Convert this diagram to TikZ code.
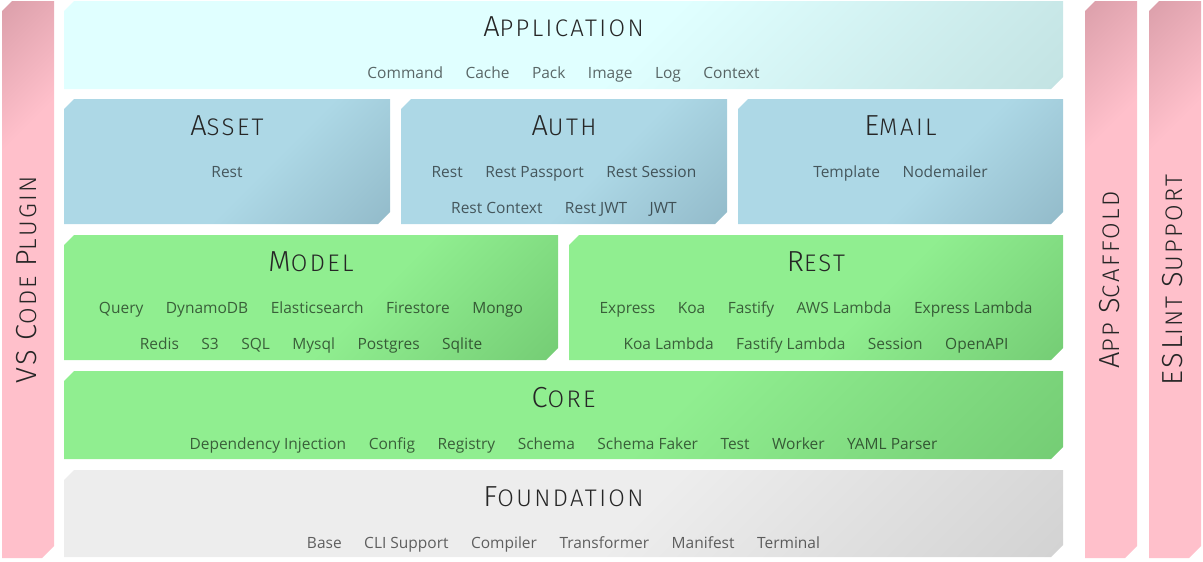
\documentclass[tikz,border=0pt]{standalone}
\usepackage{fontspec}
\setmainfont{Open Sans}
\newfontfamily\headfont{Fira Sans}[UprightFont=* Light,LetterSpace=10]
\usetikzlibrary{positioning}

\definecolor{cyanbase}{RGB}{224,255,255}
\definecolor{cyandark}{RGB}{194,226,226}
\definecolor{bluebase}{RGB}{173,216,230}
\definecolor{bluedark}{RGB}{146,186,201}
\definecolor{greenbase}{RGB}{144,238,144}
\definecolor{greendark}{RGB}{116,204,116}
\definecolor{graybase}{RGB}{237,237,237}
\definecolor{graydark}{RGB}{210,210,210}
\definecolor{pinkbase}{RGB}{255,192,203}
\definecolor{pinkdark}{RGB}{220,160,171}

\pgfdeclarehorizontalshading{cyanshade}{100bp}{color(0bp)=(cyanbase); color(55bp)=(cyanbase); color(86bp)=(cyandark); color(100bp)=(cyandark)}
\pgfdeclarehorizontalshading{blueshade}{100bp}{color(0bp)=(bluebase); color(57bp)=(bluebase); color(86bp)=(bluedark); color(100bp)=(bluedark)}
\pgfdeclarehorizontalshading{greenshade}{100bp}{color(0bp)=(greenbase); color(57bp)=(greenbase); color(86bp)=(greendark); color(100bp)=(greendark)}
\pgfdeclarehorizontalshading{grayshade}{100bp}{color(0bp)=(graybase); color(55bp)=(graybase); color(86bp)=(graydark); color(100bp)=(graydark)}
\pgfdeclarehorizontalshading{pinkshade}{100bp}{color(0bp)=(pinkdark); color(15bp)=(pinkdark); color(32bp)=(pinkbase); color(100bp)=(pinkbase)}

% box with cut corners: x1 y1 x2 y2 shading
\newcommand{\layer}[5]{\shade[shading=#5,shading angle=-45] (#1,#2+10) -- (#1+10,#2) -- (#3,#2) -- (#3,#4-12) -- (#3-12,#4) -- (#1,#4) -- cycle;}
% hand made small caps
\newcommand{\tcap}[2]{{\fontsize{29}{29}\selectfont #1}{\fontsize{24}{24}\selectfont #2}}
\newcommand{\gap}{\hspace{22.5pt}}

\begin{document}
\begin{tikzpicture}
[x=1pt,y=-1pt,
head/.style = {font=\headfont\fontsize{24}{24}\selectfont, text=black!85, inner sep=0pt},
items/.style = {font=\fontsize{15.5}{18}\selectfont, text=black, text opacity=.6, inner sep=0pt},]
\useasboundingbox (0,0) rectangle (1203,562);

\layer{2}{1}{54}{558}{pinkshade}
\layer{1085}{1}{1137}{558}{pinkshade}
\layer{1149}{1}{1201}{558}{pinkshade}
\layer{64}{1}{1063}{89}{cyanshade}
\layer{64}{99}{390}{224}{blueshade}
\layer{401}{99}{727}{224}{blueshade}
\layer{738}{99}{1063}{224}{blueshade}
\layer{64}{235}{558}{360}{greenshade}
\layer{569}{235}{1063}{360}{greenshade}
\layer{64}{371}{1063}{459}{greenshade}
\layer{64}{470}{1063}{557}{grayshade}

\node (vscode) at (27,280)[head,rotate=90] {\tcap{VS}{} \tcap{C}{ODE} \tcap{P}{LUGIN}};
\node (scaffold) at (1110,280)[head,rotate=90] {\tcap{A}{PP} \tcap{S}{CAFFOLD}};
\node (eslint) at (1173,280)[head,rotate=90] {\tcap{ESL}{INT} \tcap{S}{UPPORT}};

\node (apphead) at (563.5,36)[head,anchor=base] {\tcap{A}{PPLICATION}};
\node (appitems) at (563.5,78)[items,anchor=base] {Command\gap Cache\gap Pack\gap Image\gap Log\gap Context};

\node (assethead) at (227,135)[head,anchor=base] {\tcap{A}{SSET}};
\node (assetitems) at (227,177)[items,anchor=base] {Rest};

\node (authhead) at (564,135)[head,anchor=base] {\tcap{A}{UTH}};
\node (authitems) at (564,177)[items,anchor=base] {Rest\gap Rest Passport\gap Rest Session};
\node (authmore) at (564,213)[items,anchor=base] {Rest Context\gap Rest JWT\gap JWT};

\node (emailhead) at (900.5,135)[head,anchor=base] {\tcap{E}{MAIL}};
\node (emailitems) at (900.5,177)[items,anchor=base] {Template\gap Nodemailer};

\node (modelhead) at (311,271)[head,anchor=base] {\tcap{M}{ODEL}};
\node (modelitems) at (311,313)[items,anchor=base] {Query\gap DynamoDB\gap Elasticsearch\gap Firestore\gap Mongo};
\node (modelmore) at (311,349)[items,anchor=base] {Redis\gap S3\gap SQL\gap Mysql\gap Postgres\gap Sqlite};

\node (resthead) at (816,271)[head,anchor=base] {\tcap{R}{EST}};
\node (restitems) at (816,313)[items,anchor=base] {Express\gap Koa\gap Fastify\gap AWS Lambda\gap Express Lambda};
\node (restmore) at (816,349)[items,anchor=base] {Koa Lambda\gap Fastify Lambda\gap Session\gap OpenAPI};

\node (corehead) at (563.5,407)[head,anchor=base] {\tcap{C}{ORE}};
\node (coreitems) at (563.5,449)[items,anchor=base] {Dependency Injection\gap Config\gap Registry\gap Schema\gap Schema Faker\gap Test\gap Worker\gap YAML Parser};

\node (foundhead) at (563.5,506)[head,anchor=base] {\tcap{F}{OUNDATION}};
\node (founditems) at (563.5,548)[items,anchor=base] {Base\gap CLI Support\gap Compiler\gap Transformer\gap Manifest\gap Terminal};

\end{tikzpicture}
\end{document}
